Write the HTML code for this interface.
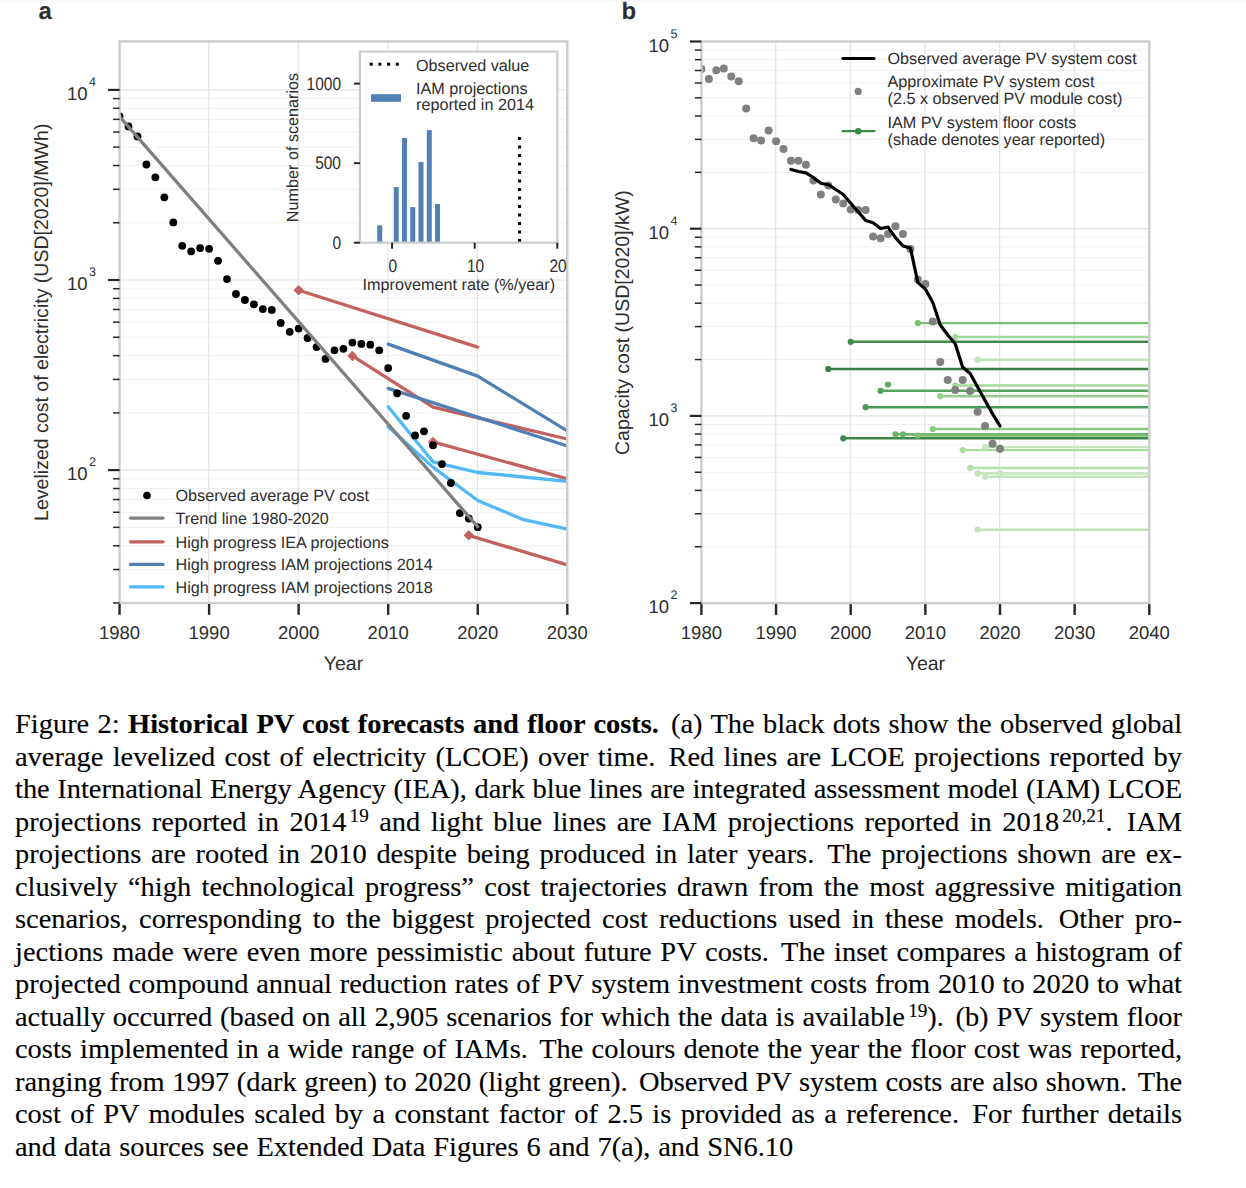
<!DOCTYPE html>
<html><head><meta charset="utf-8"><style>
html,body{margin:0;padding:0;background:#fff;width:1246px;height:1188px;overflow:hidden}
svg{position:absolute;left:0;top:0}
svg text{font-family:"Liberation Sans", sans-serif;text-rendering:geometricPrecision}
.ln{position:absolute;left:15px;width:1095.8px;transform:scaleX(1.065);transform-origin:0 0;font-family:"Liberation Serif",serif;font-size:26.7px;line-height:32px;color:#000;text-align:justify;text-align-last:justify;white-space:nowrap;letter-spacing:0px;-webkit-text-stroke:0.12px #000}
.ln.last{text-align:left;text-align-last:left;word-spacing:0.74px}
.ss{display:inline-block;width:3.5px}
.ln sup{font-size:18px;vertical-align:0;position:relative;top:-9px;margin-left:3px;letter-spacing:0}
</style></head><body>
<svg width="1246" height="690" viewBox="0 0 1246 690">
<rect x="0" y="0" width="1246" height="690" fill="#fff"/>
<line x1="119.55" y1="602.97" x2="567.3" y2="602.97" stroke="#f0f0f0" stroke-width="1"/>
<line x1="119.55" y1="569.50" x2="567.3" y2="569.50" stroke="#f0f0f0" stroke-width="1"/>
<line x1="119.55" y1="545.75" x2="567.3" y2="545.75" stroke="#f0f0f0" stroke-width="1"/>
<line x1="119.55" y1="527.33" x2="567.3" y2="527.33" stroke="#f0f0f0" stroke-width="1"/>
<line x1="119.55" y1="512.27" x2="567.3" y2="512.27" stroke="#f0f0f0" stroke-width="1"/>
<line x1="119.55" y1="499.55" x2="567.3" y2="499.55" stroke="#f0f0f0" stroke-width="1"/>
<line x1="119.55" y1="488.52" x2="567.3" y2="488.52" stroke="#f0f0f0" stroke-width="1"/>
<line x1="119.55" y1="478.80" x2="567.3" y2="478.80" stroke="#f0f0f0" stroke-width="1"/>
<line x1="119.55" y1="412.87" x2="567.3" y2="412.87" stroke="#f0f0f0" stroke-width="1"/>
<line x1="119.55" y1="379.40" x2="567.3" y2="379.40" stroke="#f0f0f0" stroke-width="1"/>
<line x1="119.55" y1="355.65" x2="567.3" y2="355.65" stroke="#f0f0f0" stroke-width="1"/>
<line x1="119.55" y1="337.23" x2="567.3" y2="337.23" stroke="#f0f0f0" stroke-width="1"/>
<line x1="119.55" y1="322.17" x2="567.3" y2="322.17" stroke="#f0f0f0" stroke-width="1"/>
<line x1="119.55" y1="309.45" x2="567.3" y2="309.45" stroke="#f0f0f0" stroke-width="1"/>
<line x1="119.55" y1="298.42" x2="567.3" y2="298.42" stroke="#f0f0f0" stroke-width="1"/>
<line x1="119.55" y1="288.70" x2="567.3" y2="288.70" stroke="#f0f0f0" stroke-width="1"/>
<line x1="119.55" y1="222.77" x2="567.3" y2="222.77" stroke="#f0f0f0" stroke-width="1"/>
<line x1="119.55" y1="189.30" x2="567.3" y2="189.30" stroke="#f0f0f0" stroke-width="1"/>
<line x1="119.55" y1="165.55" x2="567.3" y2="165.55" stroke="#f0f0f0" stroke-width="1"/>
<line x1="119.55" y1="147.13" x2="567.3" y2="147.13" stroke="#f0f0f0" stroke-width="1"/>
<line x1="119.55" y1="132.07" x2="567.3" y2="132.07" stroke="#f0f0f0" stroke-width="1"/>
<line x1="119.55" y1="119.35" x2="567.3" y2="119.35" stroke="#f0f0f0" stroke-width="1"/>
<line x1="119.55" y1="108.32" x2="567.3" y2="108.32" stroke="#f0f0f0" stroke-width="1"/>
<line x1="119.55" y1="98.60" x2="567.3" y2="98.60" stroke="#f0f0f0" stroke-width="1"/>
<line x1="119.55" y1="470.10" x2="567.3" y2="470.10" stroke="#e3e3e3" stroke-width="1.2"/>
<line x1="119.55" y1="280.00" x2="567.3" y2="280.00" stroke="#e3e3e3" stroke-width="1.2"/>
<line x1="119.55" y1="89.90" x2="567.3" y2="89.90" stroke="#e3e3e3" stroke-width="1.2"/>
<line x1="208.75" y1="41.4" x2="208.75" y2="603.0" stroke="#e3e3e3" stroke-width="1.2"/>
<line x1="298.30" y1="41.4" x2="298.30" y2="603.0" stroke="#e3e3e3" stroke-width="1.2"/>
<line x1="387.85" y1="41.4" x2="387.85" y2="603.0" stroke="#e3e3e3" stroke-width="1.2"/>
<line x1="477.40" y1="41.4" x2="477.40" y2="603.0" stroke="#e3e3e3" stroke-width="1.2"/>
<line x1="701.4" y1="546.75" x2="1149.3" y2="546.75" stroke="#f0f0f0" stroke-width="1"/>
<line x1="701.4" y1="513.78" x2="1149.3" y2="513.78" stroke="#f0f0f0" stroke-width="1"/>
<line x1="701.4" y1="490.39" x2="1149.3" y2="490.39" stroke="#f0f0f0" stroke-width="1"/>
<line x1="701.4" y1="472.25" x2="1149.3" y2="472.25" stroke="#f0f0f0" stroke-width="1"/>
<line x1="701.4" y1="457.43" x2="1149.3" y2="457.43" stroke="#f0f0f0" stroke-width="1"/>
<line x1="701.4" y1="444.90" x2="1149.3" y2="444.90" stroke="#f0f0f0" stroke-width="1"/>
<line x1="701.4" y1="434.04" x2="1149.3" y2="434.04" stroke="#f0f0f0" stroke-width="1"/>
<line x1="701.4" y1="424.47" x2="1149.3" y2="424.47" stroke="#f0f0f0" stroke-width="1"/>
<line x1="701.4" y1="359.55" x2="1149.3" y2="359.55" stroke="#f0f0f0" stroke-width="1"/>
<line x1="701.4" y1="326.58" x2="1149.3" y2="326.58" stroke="#f0f0f0" stroke-width="1"/>
<line x1="701.4" y1="303.19" x2="1149.3" y2="303.19" stroke="#f0f0f0" stroke-width="1"/>
<line x1="701.4" y1="285.05" x2="1149.3" y2="285.05" stroke="#f0f0f0" stroke-width="1"/>
<line x1="701.4" y1="270.23" x2="1149.3" y2="270.23" stroke="#f0f0f0" stroke-width="1"/>
<line x1="701.4" y1="257.70" x2="1149.3" y2="257.70" stroke="#f0f0f0" stroke-width="1"/>
<line x1="701.4" y1="246.84" x2="1149.3" y2="246.84" stroke="#f0f0f0" stroke-width="1"/>
<line x1="701.4" y1="237.27" x2="1149.3" y2="237.27" stroke="#f0f0f0" stroke-width="1"/>
<line x1="701.4" y1="172.35" x2="1149.3" y2="172.35" stroke="#f0f0f0" stroke-width="1"/>
<line x1="701.4" y1="139.38" x2="1149.3" y2="139.38" stroke="#f0f0f0" stroke-width="1"/>
<line x1="701.4" y1="115.99" x2="1149.3" y2="115.99" stroke="#f0f0f0" stroke-width="1"/>
<line x1="701.4" y1="97.85" x2="1149.3" y2="97.85" stroke="#f0f0f0" stroke-width="1"/>
<line x1="701.4" y1="83.03" x2="1149.3" y2="83.03" stroke="#f0f0f0" stroke-width="1"/>
<line x1="701.4" y1="70.50" x2="1149.3" y2="70.50" stroke="#f0f0f0" stroke-width="1"/>
<line x1="701.4" y1="59.64" x2="1149.3" y2="59.64" stroke="#f0f0f0" stroke-width="1"/>
<line x1="701.4" y1="50.07" x2="1149.3" y2="50.07" stroke="#f0f0f0" stroke-width="1"/>
<line x1="701.4" y1="415.90" x2="1149.3" y2="415.90" stroke="#e3e3e3" stroke-width="1.2"/>
<line x1="701.4" y1="228.70" x2="1149.3" y2="228.70" stroke="#e3e3e3" stroke-width="1.2"/>
<line x1="775.70" y1="41.5" x2="775.70" y2="603.1" stroke="#e3e3e3" stroke-width="1.2"/>
<line x1="850.35" y1="41.5" x2="850.35" y2="603.1" stroke="#e3e3e3" stroke-width="1.2"/>
<line x1="925.00" y1="41.5" x2="925.00" y2="603.1" stroke="#e3e3e3" stroke-width="1.2"/>
<line x1="999.65" y1="41.5" x2="999.65" y2="603.1" stroke="#e3e3e3" stroke-width="1.2"/>
<line x1="1074.30" y1="41.5" x2="1074.30" y2="603.1" stroke="#e3e3e3" stroke-width="1.2"/>
<clipPath id="ca"><rect x="119.55" y="41.4" width="447.74999999999994" height="561.6"/></clipPath>
<clipPath id="cb"><rect x="701.4" y="41.5" width="447.9" height="561.6"/></clipPath>
<g clip-path="url(#ca)">
<polyline points="298.65,290.20 477.75,347.10" fill="none" stroke="#c2625f" stroke-width="3.3" stroke-linejoin="round" stroke-linecap="round"/>
<polygon points="298.65,285.90 302.95,290.20 298.65,294.50 294.35,290.20" fill="#c2625f" stroke="#c2625f" stroke-width="1.3" stroke-linejoin="round"/>
<polyline points="352.38,355.90 432.97,407.20 567.30,439.00" fill="none" stroke="#c2625f" stroke-width="3.3" stroke-linejoin="round" stroke-linecap="round"/>
<polygon points="352.38,351.60 356.68,355.90 352.38,360.20 348.08,355.90" fill="#c2625f" stroke="#c2625f" stroke-width="1.3" stroke-linejoin="round"/>
<polyline points="432.97,441.90 567.30,478.90" fill="none" stroke="#c2625f" stroke-width="3.3" stroke-linejoin="round" stroke-linecap="round"/>
<polygon points="432.97,437.60 437.27,441.90 432.97,446.20 428.67,441.90" fill="#c2625f" stroke="#c2625f" stroke-width="1.3" stroke-linejoin="round"/>
<polyline points="468.79,535.30 567.30,564.90" fill="none" stroke="#c2625f" stroke-width="3.3" stroke-linejoin="round" stroke-linecap="round"/>
<polygon points="468.79,531.00 473.09,535.30 468.79,539.60 464.49,535.30" fill="#c2625f" stroke="#c2625f" stroke-width="1.3" stroke-linejoin="round"/>
<polyline points="388.20,344.10 477.75,376.10 567.30,430.90" fill="none" stroke="#5080b3" stroke-width="3.3" stroke-linejoin="round" stroke-linecap="round"/>
<polyline points="388.20,388.40 567.30,446.00" fill="none" stroke="#5080b3" stroke-width="3.3" stroke-linejoin="round" stroke-linecap="round"/>
<polyline points="388.20,406.70 432.97,461.80 477.75,472.50 567.30,481.40" fill="none" stroke="#50b9f5" stroke-width="3.3" stroke-linejoin="round" stroke-linecap="round"/>
<polyline points="388.20,426.70 432.97,467.10 477.75,500.50 522.52,519.30 567.30,529.10" fill="none" stroke="#50b9f5" stroke-width="3.3" stroke-linejoin="round" stroke-linecap="round"/>
<circle cx="119.55" cy="116.3" r="3.9" fill="#000"/>
<circle cx="128.50" cy="126.4" r="3.9" fill="#000"/>
<circle cx="137.46" cy="136.5" r="3.9" fill="#000"/>
<circle cx="146.41" cy="164.5" r="3.9" fill="#000"/>
<circle cx="155.37" cy="177.3" r="3.9" fill="#000"/>
<circle cx="164.32" cy="197.3" r="3.9" fill="#000"/>
<circle cx="173.28" cy="222.4" r="3.9" fill="#000"/>
<circle cx="182.23" cy="245.8" r="3.9" fill="#000"/>
<circle cx="191.19" cy="251.3" r="3.9" fill="#000"/>
<circle cx="200.14" cy="248.1" r="3.9" fill="#000"/>
<circle cx="209.10" cy="248.8" r="3.9" fill="#000"/>
<circle cx="218.05" cy="260.8" r="3.9" fill="#000"/>
<circle cx="227.01" cy="279.1" r="3.9" fill="#000"/>
<circle cx="235.96" cy="294.0" r="3.9" fill="#000"/>
<circle cx="244.92" cy="300.0" r="3.9" fill="#000"/>
<circle cx="253.88" cy="304.3" r="3.9" fill="#000"/>
<circle cx="262.83" cy="309.1" r="3.9" fill="#000"/>
<circle cx="271.78" cy="309.9" r="3.9" fill="#000"/>
<circle cx="280.74" cy="323.0" r="3.9" fill="#000"/>
<circle cx="289.69" cy="331.8" r="3.9" fill="#000"/>
<circle cx="298.65" cy="328.6" r="3.9" fill="#000"/>
<circle cx="307.60" cy="338.0" r="3.9" fill="#000"/>
<circle cx="316.56" cy="347.1" r="3.9" fill="#000"/>
<circle cx="325.51" cy="358.9" r="3.9" fill="#000"/>
<circle cx="334.47" cy="350.3" r="3.9" fill="#000"/>
<circle cx="343.42" cy="348.8" r="3.9" fill="#000"/>
<circle cx="352.38" cy="342.6" r="3.9" fill="#000"/>
<circle cx="361.33" cy="343.9" r="3.9" fill="#000"/>
<circle cx="370.29" cy="344.7" r="3.9" fill="#000"/>
<circle cx="379.24" cy="350.3" r="3.9" fill="#000"/>
<circle cx="388.20" cy="368.1" r="3.9" fill="#000"/>
<circle cx="397.15" cy="393.3" r="3.9" fill="#000"/>
<circle cx="406.11" cy="415.8" r="3.9" fill="#000"/>
<circle cx="415.06" cy="435.4" r="3.9" fill="#000"/>
<circle cx="424.02" cy="431.3" r="3.9" fill="#000"/>
<circle cx="432.97" cy="445.3" r="3.9" fill="#000"/>
<circle cx="441.93" cy="464.1" r="3.9" fill="#000"/>
<circle cx="450.88" cy="483.0" r="3.9" fill="#000"/>
<circle cx="459.84" cy="513.1" r="3.9" fill="#000"/>
<circle cx="468.79" cy="518.5" r="3.9" fill="#000"/>
<circle cx="477.75" cy="527.2" r="3.9" fill="#000"/>
<line x1="119.55" y1="116.5" x2="477.75" y2="526.8" stroke="#808080" stroke-width="3.3" stroke-linecap="round"/>
</g>
<g clip-path="url(#cb)">
<line x1="828.30" y1="369.0" x2="1149.3" y2="369.0" stroke="#3a7c44" stroke-width="2.4"/>
<circle cx="828.30" cy="369.0" r="3.1" fill="#3a7c44"/>
<line x1="843.24" y1="438.3" x2="1149.3" y2="438.3" stroke="#40864a" stroke-width="2.4"/>
<circle cx="843.24" cy="438.3" r="3.1" fill="#40864a"/>
<line x1="850.70" y1="341.8" x2="1149.3" y2="341.8" stroke="#438b4d" stroke-width="2.4"/>
<circle cx="850.70" cy="341.8" r="3.1" fill="#438b4d"/>
<line x1="865.63" y1="407.2" x2="1149.3" y2="407.2" stroke="#4a9a57" stroke-width="2.4"/>
<circle cx="865.63" cy="407.2" r="3.1" fill="#4a9a57"/>
<line x1="880.56" y1="390.8" x2="1149.3" y2="390.8" stroke="#54a45e" stroke-width="2.4"/>
<circle cx="880.56" cy="390.8" r="3.1" fill="#54a45e"/>
<circle cx="888.02" cy="384.5" r="3.1" fill="#5ba963"/>
<line x1="895.49" y1="434.3" x2="1149.3" y2="434.3" stroke="#69b469" stroke-width="2.4"/>
<circle cx="895.49" cy="434.3" r="3.1" fill="#69b469"/>
<line x1="902.95" y1="434.3" x2="1149.3" y2="434.3" stroke="#6cb66c" stroke-width="2.4"/>
<circle cx="902.95" cy="434.3" r="3.1" fill="#6cb66c"/>
<line x1="917.88" y1="435.5" x2="1149.3" y2="435.5" stroke="#7bbf73" stroke-width="2.4"/>
<circle cx="917.88" cy="435.5" r="3.1" fill="#7bbf73"/>
<line x1="917.88" y1="323.1" x2="1149.3" y2="323.1" stroke="#7bbf73" stroke-width="2.4"/>
<circle cx="917.88" cy="323.1" r="3.1" fill="#7bbf73"/>
<line x1="932.81" y1="429.0" x2="1149.3" y2="429.0" stroke="#8cc882" stroke-width="2.4"/>
<circle cx="932.81" cy="429.0" r="3.1" fill="#8cc882"/>
<line x1="940.28" y1="396.2" x2="1149.3" y2="396.2" stroke="#98d08e" stroke-width="2.4"/>
<circle cx="940.28" cy="396.2" r="3.1" fill="#98d08e"/>
<line x1="955.21" y1="337.0" x2="1149.3" y2="337.0" stroke="#a3d89b" stroke-width="2.4"/>
<circle cx="955.21" cy="337.0" r="3.1" fill="#a3d89b"/>
<line x1="955.21" y1="385.5" x2="1149.3" y2="385.5" stroke="#a3d89b" stroke-width="2.4"/>
<circle cx="955.21" cy="385.5" r="3.1" fill="#a3d89b"/>
<line x1="962.67" y1="450.1" x2="1149.3" y2="450.1" stroke="#acdca2" stroke-width="2.4"/>
<circle cx="962.67" cy="450.1" r="3.1" fill="#acdca2"/>
<line x1="970.14" y1="468.0" x2="1149.3" y2="468.0" stroke="#b4deaa" stroke-width="2.4"/>
<circle cx="970.14" cy="468.0" r="3.1" fill="#b4deaa"/>
<line x1="977.61" y1="359.7" x2="1149.3" y2="359.7" stroke="#c0e3b8" stroke-width="2.4"/>
<circle cx="977.61" cy="359.7" r="3.1" fill="#c0e3b8"/>
<line x1="977.61" y1="473.4" x2="1149.3" y2="473.4" stroke="#c0e3b8" stroke-width="2.4"/>
<circle cx="977.61" cy="473.4" r="3.1" fill="#c0e3b8"/>
<line x1="977.61" y1="529.7" x2="1149.3" y2="529.7" stroke="#c0e3b8" stroke-width="2.4"/>
<circle cx="977.61" cy="529.7" r="3.1" fill="#c0e3b8"/>
<line x1="985.07" y1="447.1" x2="1149.3" y2="447.1" stroke="#c6e6c0" stroke-width="2.4"/>
<circle cx="985.07" cy="447.1" r="3.1" fill="#c6e6c0"/>
<line x1="985.07" y1="476.8" x2="1149.3" y2="476.8" stroke="#c6e6c0" stroke-width="2.4"/>
<circle cx="985.07" cy="476.8" r="3.1" fill="#c6e6c0"/>
<line x1="1000.00" y1="473.4" x2="1149.3" y2="473.4" stroke="#c8e8c3" stroke-width="2.4"/>
<circle cx="1000.00" cy="473.4" r="3.1" fill="#c8e8c3"/>
<circle cx="701.40" cy="68.9" r="4.0" fill="#808080"/>
<circle cx="708.87" cy="79.0" r="4.0" fill="#808080"/>
<circle cx="716.33" cy="70.2" r="4.0" fill="#808080"/>
<circle cx="723.79" cy="68.6" r="4.0" fill="#808080"/>
<circle cx="731.26" cy="76.5" r="4.0" fill="#808080"/>
<circle cx="738.73" cy="81.2" r="4.0" fill="#808080"/>
<circle cx="746.19" cy="108.6" r="4.0" fill="#808080"/>
<circle cx="753.65" cy="138.2" r="4.0" fill="#808080"/>
<circle cx="761.12" cy="140.5" r="4.0" fill="#808080"/>
<circle cx="768.59" cy="130.4" r="4.0" fill="#808080"/>
<circle cx="776.05" cy="141.2" r="4.0" fill="#808080"/>
<circle cx="783.51" cy="149.0" r="4.0" fill="#808080"/>
<circle cx="790.98" cy="160.8" r="4.0" fill="#808080"/>
<circle cx="798.44" cy="160.7" r="4.0" fill="#808080"/>
<circle cx="805.91" cy="164.7" r="4.0" fill="#808080"/>
<circle cx="813.38" cy="180.4" r="4.0" fill="#808080"/>
<circle cx="820.84" cy="194.4" r="4.0" fill="#808080"/>
<circle cx="828.30" cy="185.4" r="4.0" fill="#808080"/>
<circle cx="835.77" cy="199.6" r="4.0" fill="#808080"/>
<circle cx="843.24" cy="203.5" r="4.0" fill="#808080"/>
<circle cx="850.70" cy="209.4" r="4.0" fill="#808080"/>
<circle cx="858.16" cy="209.9" r="4.0" fill="#808080"/>
<circle cx="865.63" cy="209.9" r="4.0" fill="#808080"/>
<circle cx="873.10" cy="236.6" r="4.0" fill="#808080"/>
<circle cx="880.56" cy="238.2" r="4.0" fill="#808080"/>
<circle cx="888.02" cy="234.1" r="4.0" fill="#808080"/>
<circle cx="895.49" cy="226.2" r="4.0" fill="#808080"/>
<circle cx="902.95" cy="234.1" r="4.0" fill="#808080"/>
<circle cx="910.42" cy="249.0" r="4.0" fill="#808080"/>
<circle cx="917.88" cy="279.4" r="4.0" fill="#808080"/>
<circle cx="925.35" cy="284.0" r="4.0" fill="#808080"/>
<circle cx="932.81" cy="321.4" r="4.0" fill="#808080"/>
<circle cx="940.28" cy="362.0" r="4.0" fill="#808080"/>
<circle cx="947.74" cy="379.9" r="4.0" fill="#808080"/>
<circle cx="955.21" cy="390.0" r="4.0" fill="#808080"/>
<circle cx="962.67" cy="379.9" r="4.0" fill="#808080"/>
<circle cx="970.14" cy="390.9" r="4.0" fill="#808080"/>
<circle cx="977.61" cy="411.8" r="4.0" fill="#808080"/>
<circle cx="985.07" cy="425.9" r="4.0" fill="#808080"/>
<circle cx="992.53" cy="443.8" r="4.0" fill="#808080"/>
<circle cx="1000.00" cy="448.8" r="4.0" fill="#808080"/>
<polyline points="790.98,169.50 798.44,171.50 805.91,172.80 813.38,177.50 820.84,183.30 828.30,184.70 835.77,189.50 843.24,194.50 850.70,203.20 858.16,211.80 865.63,220.40 873.10,222.80 880.56,228.50 888.02,227.10 895.49,237.60 902.95,246.00 910.42,248.00 917.88,282.60 925.35,289.10 932.81,302.60 940.28,325.00 947.74,335.00 955.21,343.80 962.67,367.30 970.14,373.40 977.61,387.00 985.07,400.50 992.53,413.80 1000.00,426.00" fill="none" stroke="#000" stroke-width="3.2" stroke-linejoin="round" stroke-linecap="round"/>
</g>
<rect x="119.55" y="41.4" width="447.74999999999994" height="561.6" fill="none" stroke="#cccccc" stroke-width="2.4"/>
<rect x="701.4" y="41.5" width="447.9" height="561.6" fill="none" stroke="#cccccc" stroke-width="2.4"/>
<line x1="113.05" y1="602.97" x2="119.55" y2="602.97" stroke="#262626" stroke-width="1.5"/>
<line x1="113.05" y1="569.50" x2="119.55" y2="569.50" stroke="#262626" stroke-width="1.5"/>
<line x1="113.05" y1="545.75" x2="119.55" y2="545.75" stroke="#262626" stroke-width="1.5"/>
<line x1="113.05" y1="527.33" x2="119.55" y2="527.33" stroke="#262626" stroke-width="1.5"/>
<line x1="113.05" y1="512.27" x2="119.55" y2="512.27" stroke="#262626" stroke-width="1.5"/>
<line x1="113.05" y1="499.55" x2="119.55" y2="499.55" stroke="#262626" stroke-width="1.5"/>
<line x1="113.05" y1="488.52" x2="119.55" y2="488.52" stroke="#262626" stroke-width="1.5"/>
<line x1="113.05" y1="478.80" x2="119.55" y2="478.80" stroke="#262626" stroke-width="1.5"/>
<line x1="108.05" y1="470.10" x2="119.55" y2="470.10" stroke="#262626" stroke-width="2.2"/>
<line x1="113.05" y1="412.87" x2="119.55" y2="412.87" stroke="#262626" stroke-width="1.5"/>
<line x1="113.05" y1="379.40" x2="119.55" y2="379.40" stroke="#262626" stroke-width="1.5"/>
<line x1="113.05" y1="355.65" x2="119.55" y2="355.65" stroke="#262626" stroke-width="1.5"/>
<line x1="113.05" y1="337.23" x2="119.55" y2="337.23" stroke="#262626" stroke-width="1.5"/>
<line x1="113.05" y1="322.17" x2="119.55" y2="322.17" stroke="#262626" stroke-width="1.5"/>
<line x1="113.05" y1="309.45" x2="119.55" y2="309.45" stroke="#262626" stroke-width="1.5"/>
<line x1="113.05" y1="298.42" x2="119.55" y2="298.42" stroke="#262626" stroke-width="1.5"/>
<line x1="113.05" y1="288.70" x2="119.55" y2="288.70" stroke="#262626" stroke-width="1.5"/>
<line x1="108.05" y1="280.00" x2="119.55" y2="280.00" stroke="#262626" stroke-width="2.2"/>
<line x1="113.05" y1="222.77" x2="119.55" y2="222.77" stroke="#262626" stroke-width="1.5"/>
<line x1="113.05" y1="189.30" x2="119.55" y2="189.30" stroke="#262626" stroke-width="1.5"/>
<line x1="113.05" y1="165.55" x2="119.55" y2="165.55" stroke="#262626" stroke-width="1.5"/>
<line x1="113.05" y1="147.13" x2="119.55" y2="147.13" stroke="#262626" stroke-width="1.5"/>
<line x1="113.05" y1="132.07" x2="119.55" y2="132.07" stroke="#262626" stroke-width="1.5"/>
<line x1="113.05" y1="119.35" x2="119.55" y2="119.35" stroke="#262626" stroke-width="1.5"/>
<line x1="113.05" y1="108.32" x2="119.55" y2="108.32" stroke="#262626" stroke-width="1.5"/>
<line x1="113.05" y1="98.60" x2="119.55" y2="98.60" stroke="#262626" stroke-width="1.5"/>
<line x1="108.05" y1="89.90" x2="119.55" y2="89.90" stroke="#262626" stroke-width="2.2"/>
<line x1="119.55" y1="604.0" x2="119.55" y2="614.8" stroke="#262626" stroke-width="2.4"/>
<text x="119.55" y="638.8" font-size="18.5" text-anchor="middle" fill="#2e2e2e">1980</text>
<line x1="209.10" y1="604.0" x2="209.10" y2="614.8" stroke="#262626" stroke-width="2.4"/>
<text x="209.10" y="638.8" font-size="18.5" text-anchor="middle" fill="#2e2e2e">1990</text>
<line x1="298.65" y1="604.0" x2="298.65" y2="614.8" stroke="#262626" stroke-width="2.4"/>
<text x="298.65" y="638.8" font-size="18.5" text-anchor="middle" fill="#2e2e2e">2000</text>
<line x1="388.20" y1="604.0" x2="388.20" y2="614.8" stroke="#262626" stroke-width="2.4"/>
<text x="388.20" y="638.8" font-size="18.5" text-anchor="middle" fill="#2e2e2e">2010</text>
<line x1="477.75" y1="604.0" x2="477.75" y2="614.8" stroke="#262626" stroke-width="2.4"/>
<text x="477.75" y="638.8" font-size="18.5" text-anchor="middle" fill="#2e2e2e">2020</text>
<line x1="567.30" y1="604.0" x2="567.30" y2="614.8" stroke="#262626" stroke-width="2.4"/>
<text x="567.30" y="638.8" font-size="18.5" text-anchor="middle" fill="#2e2e2e">2030</text>
<text x="87.5" y="480.10" font-size="18.5" text-anchor="end" fill="#2e2e2e">10</text>
<text x="89" y="466.10" font-size="12.5" fill="#2e2e2e">2</text>
<text x="87.5" y="290.00" font-size="18.5" text-anchor="end" fill="#2e2e2e">10</text>
<text x="89" y="276.00" font-size="12.5" fill="#2e2e2e">3</text>
<text x="87.5" y="99.90" font-size="18.5" text-anchor="end" fill="#2e2e2e">10</text>
<text x="89" y="85.90" font-size="12.5" fill="#2e2e2e">4</text>
<line x1="689.9" y1="603.10" x2="701.4" y2="603.10" stroke="#262626" stroke-width="2.2"/>
<line x1="694.9" y1="546.75" x2="701.4" y2="546.75" stroke="#262626" stroke-width="1.5"/>
<line x1="694.9" y1="513.78" x2="701.4" y2="513.78" stroke="#262626" stroke-width="1.5"/>
<line x1="694.9" y1="490.39" x2="701.4" y2="490.39" stroke="#262626" stroke-width="1.5"/>
<line x1="694.9" y1="472.25" x2="701.4" y2="472.25" stroke="#262626" stroke-width="1.5"/>
<line x1="694.9" y1="457.43" x2="701.4" y2="457.43" stroke="#262626" stroke-width="1.5"/>
<line x1="694.9" y1="444.90" x2="701.4" y2="444.90" stroke="#262626" stroke-width="1.5"/>
<line x1="694.9" y1="434.04" x2="701.4" y2="434.04" stroke="#262626" stroke-width="1.5"/>
<line x1="694.9" y1="424.47" x2="701.4" y2="424.47" stroke="#262626" stroke-width="1.5"/>
<line x1="689.9" y1="415.90" x2="701.4" y2="415.90" stroke="#262626" stroke-width="2.2"/>
<line x1="694.9" y1="359.55" x2="701.4" y2="359.55" stroke="#262626" stroke-width="1.5"/>
<line x1="694.9" y1="326.58" x2="701.4" y2="326.58" stroke="#262626" stroke-width="1.5"/>
<line x1="694.9" y1="303.19" x2="701.4" y2="303.19" stroke="#262626" stroke-width="1.5"/>
<line x1="694.9" y1="285.05" x2="701.4" y2="285.05" stroke="#262626" stroke-width="1.5"/>
<line x1="694.9" y1="270.23" x2="701.4" y2="270.23" stroke="#262626" stroke-width="1.5"/>
<line x1="694.9" y1="257.70" x2="701.4" y2="257.70" stroke="#262626" stroke-width="1.5"/>
<line x1="694.9" y1="246.84" x2="701.4" y2="246.84" stroke="#262626" stroke-width="1.5"/>
<line x1="694.9" y1="237.27" x2="701.4" y2="237.27" stroke="#262626" stroke-width="1.5"/>
<line x1="689.9" y1="228.70" x2="701.4" y2="228.70" stroke="#262626" stroke-width="2.2"/>
<line x1="694.9" y1="172.35" x2="701.4" y2="172.35" stroke="#262626" stroke-width="1.5"/>
<line x1="694.9" y1="139.38" x2="701.4" y2="139.38" stroke="#262626" stroke-width="1.5"/>
<line x1="694.9" y1="115.99" x2="701.4" y2="115.99" stroke="#262626" stroke-width="1.5"/>
<line x1="694.9" y1="97.85" x2="701.4" y2="97.85" stroke="#262626" stroke-width="1.5"/>
<line x1="694.9" y1="83.03" x2="701.4" y2="83.03" stroke="#262626" stroke-width="1.5"/>
<line x1="694.9" y1="70.50" x2="701.4" y2="70.50" stroke="#262626" stroke-width="1.5"/>
<line x1="694.9" y1="59.64" x2="701.4" y2="59.64" stroke="#262626" stroke-width="1.5"/>
<line x1="694.9" y1="50.07" x2="701.4" y2="50.07" stroke="#262626" stroke-width="1.5"/>
<line x1="689.9" y1="41.50" x2="701.4" y2="41.50" stroke="#262626" stroke-width="2.2"/>
<line x1="701.40" y1="604.1" x2="701.40" y2="614.9" stroke="#262626" stroke-width="2.4"/>
<text x="701.40" y="638.8" font-size="18.5" text-anchor="middle" fill="#2e2e2e">1980</text>
<line x1="776.05" y1="604.1" x2="776.05" y2="614.9" stroke="#262626" stroke-width="2.4"/>
<text x="776.05" y="638.8" font-size="18.5" text-anchor="middle" fill="#2e2e2e">1990</text>
<line x1="850.70" y1="604.1" x2="850.70" y2="614.9" stroke="#262626" stroke-width="2.4"/>
<text x="850.70" y="638.8" font-size="18.5" text-anchor="middle" fill="#2e2e2e">2000</text>
<line x1="925.35" y1="604.1" x2="925.35" y2="614.9" stroke="#262626" stroke-width="2.4"/>
<text x="925.35" y="638.8" font-size="18.5" text-anchor="middle" fill="#2e2e2e">2010</text>
<line x1="1000.00" y1="604.1" x2="1000.00" y2="614.9" stroke="#262626" stroke-width="2.4"/>
<text x="1000.00" y="638.8" font-size="18.5" text-anchor="middle" fill="#2e2e2e">2020</text>
<line x1="1074.65" y1="604.1" x2="1074.65" y2="614.9" stroke="#262626" stroke-width="2.4"/>
<text x="1074.65" y="638.8" font-size="18.5" text-anchor="middle" fill="#2e2e2e">2030</text>
<line x1="1149.30" y1="604.1" x2="1149.30" y2="614.9" stroke="#262626" stroke-width="2.4"/>
<text x="1149.30" y="638.8" font-size="18.5" text-anchor="middle" fill="#2e2e2e">2040</text>
<text x="669" y="613.10" font-size="18.5" text-anchor="end" fill="#2e2e2e">10</text>
<text x="670.5" y="599.10" font-size="12.5" fill="#2e2e2e">2</text>
<text x="669" y="425.90" font-size="18.5" text-anchor="end" fill="#2e2e2e">10</text>
<text x="670.5" y="411.90" font-size="12.5" fill="#2e2e2e">3</text>
<text x="669" y="238.70" font-size="18.5" text-anchor="end" fill="#2e2e2e">10</text>
<text x="670.5" y="224.70" font-size="12.5" fill="#2e2e2e">4</text>
<text x="669" y="51.50" font-size="18.5" text-anchor="end" fill="#2e2e2e">10</text>
<text x="670.5" y="37.50" font-size="12.5" fill="#2e2e2e">5</text>
<rect x="359.9" y="51.6" width="197.39999999999998" height="191.1" fill="#fff"/>
<rect x="377.21" y="225.3" width="5" height="17.40" fill="#5381b3"/>
<rect x="393.73" y="187.0" width="5" height="55.70" fill="#5381b3"/>
<rect x="401.99" y="138.0" width="5" height="104.70" fill="#5381b3"/>
<rect x="410.25" y="207.1" width="5" height="35.60" fill="#5381b3"/>
<rect x="418.51" y="161.9" width="5" height="80.80" fill="#5381b3"/>
<rect x="426.77" y="130.1" width="5" height="112.60" fill="#5381b3"/>
<rect x="435.03" y="204.0" width="5" height="38.70" fill="#5381b3"/>
<rect x="518.1" y="239.00" width="3" height="3" fill="#000"/>
<rect x="518.1" y="230.50" width="3" height="3" fill="#000"/>
<rect x="518.1" y="222.00" width="3" height="3" fill="#000"/>
<rect x="518.1" y="213.50" width="3" height="3" fill="#000"/>
<rect x="518.1" y="205.00" width="3" height="3" fill="#000"/>
<rect x="518.1" y="196.50" width="3" height="3" fill="#000"/>
<rect x="518.1" y="188.00" width="3" height="3" fill="#000"/>
<rect x="518.1" y="179.50" width="3" height="3" fill="#000"/>
<rect x="518.1" y="171.00" width="3" height="3" fill="#000"/>
<rect x="518.1" y="162.50" width="3" height="3" fill="#000"/>
<rect x="518.1" y="154.00" width="3" height="3" fill="#000"/>
<rect x="518.1" y="145.50" width="3" height="3" fill="#000"/>
<rect x="518.1" y="137.00" width="3" height="3" fill="#000"/>
<rect x="359.9" y="51.6" width="197.39999999999998" height="191.1" fill="none" stroke="#cccccc" stroke-width="2.2"/>
<line x1="353.9" y1="242.70" x2="359.9" y2="242.70" stroke="#262626" stroke-width="2"/>
<text transform="translate(341,248.60) scale(1,1.17)" font-size="15.5" text-anchor="end" fill="#2e2e2e">0</text>
<line x1="353.9" y1="163.15" x2="359.9" y2="163.15" stroke="#262626" stroke-width="2"/>
<text transform="translate(341,169.05) scale(1,1.17)" font-size="15.5" text-anchor="end" fill="#2e2e2e">500</text>
<line x1="353.9" y1="83.60" x2="359.9" y2="83.60" stroke="#262626" stroke-width="2"/>
<text transform="translate(341,89.50) scale(1,1.17)" font-size="15.5" text-anchor="end" fill="#2e2e2e">1000</text>
<line x1="392.10" y1="242.7" x2="392.10" y2="248.7" stroke="#262626" stroke-width="2"/>
<text transform="translate(392.90,271.5) scale(1,1.17)" font-size="15.5" text-anchor="middle" fill="#2e2e2e">0</text>
<line x1="474.70" y1="242.7" x2="474.70" y2="248.7" stroke="#262626" stroke-width="2"/>
<text transform="translate(475.50,271.5) scale(1,1.17)" font-size="15.5" text-anchor="middle" fill="#2e2e2e">10</text>
<line x1="557.30" y1="242.7" x2="557.30" y2="248.7" stroke="#262626" stroke-width="2"/>
<text transform="translate(558.10,271.5) scale(1,1.17)" font-size="15.5" text-anchor="middle" fill="#2e2e2e">20</text>
<text x="458.8" y="290" font-size="16.2" text-anchor="middle" fill="#2e2e2e">Improvement rate (%/year)</text>
<text transform="translate(298,147.5) rotate(-90)" font-size="16.2" text-anchor="middle" fill="#2e2e2e">Number of scenarios</text>
<rect x="369.70" y="62.7" width="3" height="3" fill="#000"/>
<rect x="378.40" y="62.7" width="3" height="3" fill="#000"/>
<rect x="387.10" y="62.7" width="3" height="3" fill="#000"/>
<rect x="395.80" y="62.7" width="3" height="3" fill="#000"/>
<rect x="371" y="94.2" width="30" height="7.6" fill="#5381b3"/>
<text x="416" y="70.8" font-size="16.2" fill="#2e2e2e">Observed value</text>
<text x="416" y="93.5" font-size="16.2" fill="#2e2e2e">IAM projections</text>
<text x="416" y="110.2" font-size="16.2" fill="#2e2e2e">reported in 2014</text>
<circle cx="147" cy="495.5" r="3.8" fill="#000"/>
<text x="175.5" y="501.30" font-size="16.2" fill="#2e2e2e">Observed average PV cost</text>
<line x1="130.5" y1="518.1" x2="163" y2="518.1" stroke="#808080" stroke-width="3.2" stroke-linecap="round"/>
<text x="175.5" y="523.90" font-size="16.2" fill="#2e2e2e">Trend line 1980-2020</text>
<line x1="130.5" y1="541.8" x2="163" y2="541.8" stroke="#c2625f" stroke-width="3.2" stroke-linecap="round"/>
<text x="175.5" y="547.60" font-size="16.2" fill="#2e2e2e">High progress IEA projections</text>
<line x1="130.5" y1="564.4" x2="163" y2="564.4" stroke="#5080b3" stroke-width="3.2" stroke-linecap="round"/>
<text x="175.5" y="570.20" font-size="16.2" fill="#2e2e2e">High progress IAM projections 2014</text>
<line x1="130.5" y1="586.9" x2="163" y2="586.9" stroke="#50b9f5" stroke-width="3.2" stroke-linecap="round"/>
<text x="175.5" y="592.70" font-size="16.2" fill="#2e2e2e">High progress IAM projections 2018</text>
<line x1="843" y1="58.5" x2="874" y2="58.5" stroke="#000" stroke-width="3.2" stroke-linecap="round"/>
<text x="887.5" y="64.3" font-size="16.2" fill="#2e2e2e">Observed average PV system cost</text>
<circle cx="858.2" cy="91.4" r="3.6" fill="#808080"/>
<text x="887.5" y="86.9" font-size="16.2" fill="#2e2e2e">Approximate PV system cost</text>
<text x="887.5" y="104.4" font-size="16.2" fill="#2e2e2e">(2.5 x observed PV module cost)</text>
<line x1="841.6" y1="131.2" x2="875.5" y2="131.2" stroke="#3d8a47" stroke-width="2.2"/>
<circle cx="858.2" cy="131.2" r="3.3" fill="#3d8a47"/>
<text x="887.5" y="127.5" font-size="16.2" fill="#2e2e2e">IAM PV system floor costs</text>
<text x="887.5" y="144.7" font-size="16.2" fill="#2e2e2e">(shade denotes year reported)</text>
<text transform="translate(48.3,322.25) rotate(-90)" font-size="19.55" text-anchor="middle" fill="#2e2e2e">Levelized cost of electricity (USD[2020]/MWh)</text>
<text transform="translate(629.4,322.65) rotate(-90)" font-size="19.55" text-anchor="middle" fill="#2e2e2e">Capacity cost (USD[2020]/kW)</text>
<text x="343.5" y="670.3" font-size="19.5" text-anchor="middle" fill="#2e2e2e">Year</text>
<text x="925.4" y="670.3" font-size="19.5" text-anchor="middle" fill="#2e2e2e">Year</text>
<text x="38.5" y="18.5" font-size="24" font-weight="bold" fill="#2e2e2e">a</text>
<text x="621.5" y="18.5" font-size="24" font-weight="bold" fill="#2e2e2e">b</text>
</svg>
<div style="position:absolute;left:0;top:0;width:1246px;height:3px;background:linear-gradient(#f6f6f6,rgba(255,255,255,0))"></div>
<div class="ln" style="top:708.00px"><span class="fig">Figure 2:</span> <b>Historical PV cost forecasts and floor costs.</b><i class=ss></i> (a) The black dots show the observed global</div>
<div class="ln" style="top:740.51px">average levelized cost of electricity (LCOE) over time.<i class=ss></i> Red lines are LCOE projections reported by</div>
<div class="ln" style="top:773.02px">the International Energy Agency (IEA), dark blue lines are integrated assessment model (IAM) LCOE</div>
<div class="ln" style="top:805.53px">projections reported in 2014<sup>19</sup> and light blue lines are IAM projections reported in 2018<sup>20,21</sup>.<i class=ss></i> IAM</div>
<div class="ln" style="top:838.04px">projections are rooted in 2010 despite being produced in later years.<i class=ss></i> The projections shown are ex-</div>
<div class="ln" style="top:870.55px">clusively “high technological progress” cost trajectories drawn from the most aggressive mitigation</div>
<div class="ln" style="top:903.06px">scenarios, corresponding to the biggest projected cost reductions used in these models.<i class=ss></i> Other pro-</div>
<div class="ln" style="top:935.57px">jections made were even more pessimistic about future PV costs.<i class=ss></i> The inset compares a histogram of</div>
<div class="ln" style="top:968.08px">projected compound annual reduction rates of PV system investment costs from 2010 to 2020 to what</div>
<div class="ln" style="top:1000.59px">actually occurred (based on all 2,905 scenarios for which the data is available<sup>19</sup>).<i class=ss></i> (b) PV system floor</div>
<div class="ln" style="top:1033.10px">costs implemented in a wide range of IAMs.<i class=ss></i> The colours denote the year the floor cost was reported,</div>
<div class="ln" style="top:1065.61px">ranging from 1997 (dark green) to 2020 (light green).<i class=ss></i> Observed PV system costs are also shown.<i class=ss></i> The</div>
<div class="ln" style="top:1098.12px">cost of PV modules scaled by a constant factor of 2.5 is provided as a reference.<i class=ss></i> For further details</div>
<div class="ln last" style="top:1130.63px">and data sources see Extended Data Figures 6 and 7(a), and SN6.10</div>
</body></html>
